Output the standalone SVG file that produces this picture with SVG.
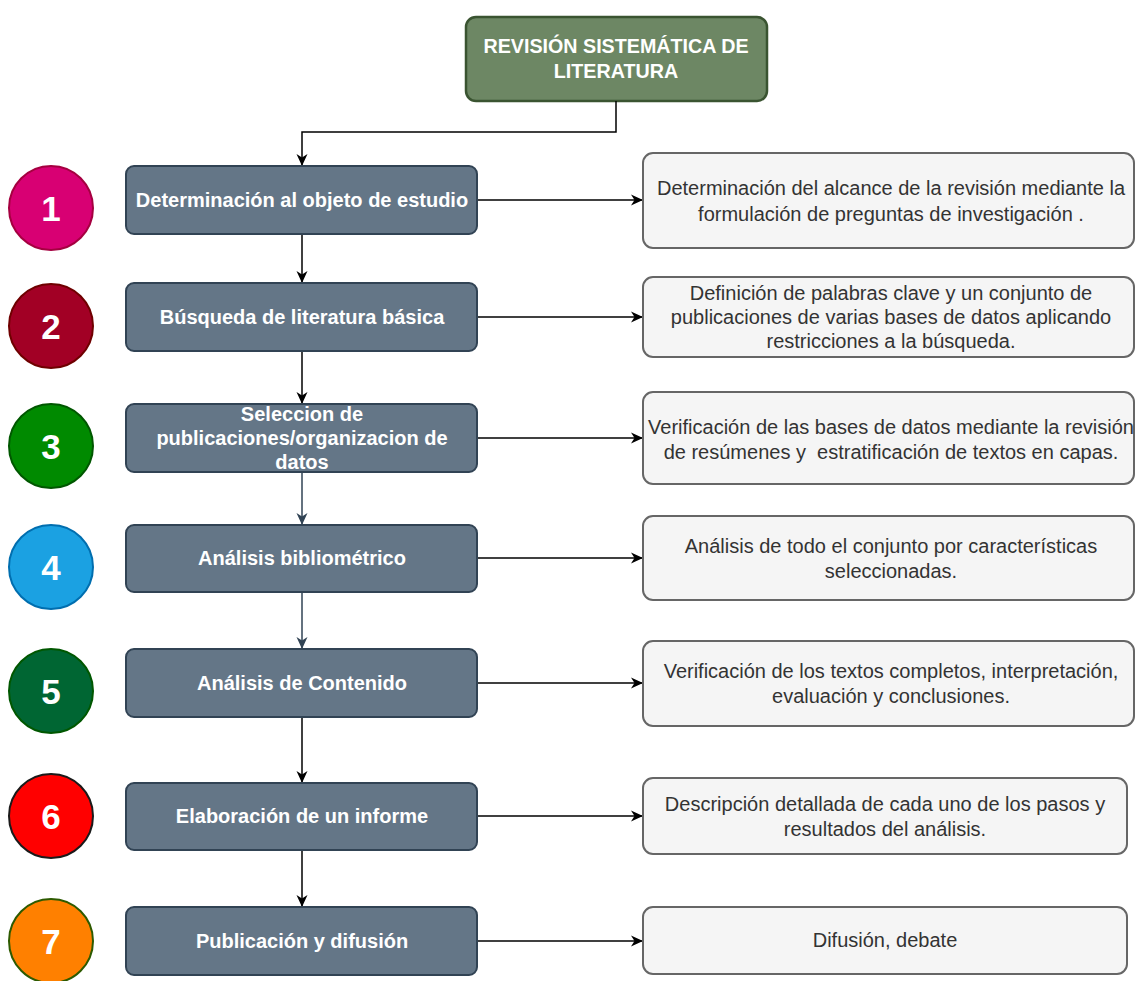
<svg xmlns="http://www.w3.org/2000/svg" width="1135" height="981" viewBox="0 0 1135 981">
  <style>
    .step rect { fill: #647687; stroke: #314354; stroke-width: 2; }
    .step text { fill: #ffffff; font-family: "Liberation Sans", Arial, sans-serif; font-size: 20px; font-weight: bold; text-anchor: middle; }
    .desc rect { fill: #f5f5f5; stroke: #666666; stroke-width: 2; }
    .desc text { fill: #333333; font-family: "Liberation Sans", Arial, sans-serif; font-size: 20px; text-anchor: middle; white-space: pre; }
    .num circle { stroke-width: 2; }
    .num text { fill: #ffffff; font-family: "Liberation Sans", Arial, sans-serif; font-size: 35px; font-weight: bold; text-anchor: middle; }
    .edge { fill: none; stroke: #000000; stroke-width: 1.5; marker-end: url(#arrow); }
    .edge.slate { stroke: #314354; marker-end: url(#arrowSlate); }
  </style>
  <defs>
    <marker id="arrow" markerUnits="userSpaceOnUse" markerWidth="14" markerHeight="12" refX="12" refY="6" orient="auto">
      <path d="M0,0.5 L12,6 L0,11.5 L3.5,6 Z" fill="#000000"/>
    </marker>
    <marker id="arrowSlate" markerUnits="userSpaceOnUse" markerWidth="14" markerHeight="12" refX="12" refY="6" orient="auto">
      <path d="M0,0.5 L12,6 L0,11.5 L3.5,6 Z" fill="#314354"/>
    </marker>
  </defs>
  <rect width="1135" height="981" fill="#ffffff"/>

  <!-- title -->
  <g id="title">
    <rect x="466" y="17" width="301" height="84" rx="10" fill="#6d8764" stroke="#3a5431" stroke-width="2.5"/>
    <text x="616" y="53" fill="#ffffff" font-family="'Liberation Sans', Arial, sans-serif" font-size="19.7" font-weight="bold" text-anchor="middle">REVISIÓN SISTEMÁTICA DE</text>
    <text x="616" y="78" fill="#ffffff" font-family="'Liberation Sans', Arial, sans-serif" font-size="19.7" font-weight="bold" text-anchor="middle">LITERATURA</text>
  </g>

  <!-- connectors -->
  <g id="connectors">
    <path class="edge" d="M616,101 V132 H302 V166"/>
    <path class="edge" d="M302,234 V283"/>
    <path class="edge" d="M302,351 V404"/>
    <path class="edge slate" d="M302,472 V525"/>
    <path class="edge slate" d="M302,592 V649"/>
    <path class="edge" d="M302,717 V783"/>
    <path class="edge" d="M302,850 V907"/>
    <path class="edge" d="M477,200 H643"/>
    <path class="edge" d="M477,317 H643"/>
    <path class="edge" d="M477,438 H643"/>
    <path class="edge" d="M477,558 H643"/>
    <path class="edge" d="M477,683 H643"/>
    <path class="edge" d="M477,816 H643"/>
    <path class="edge" d="M477,941 H643"/>
  </g>

  <!-- numbered badges -->
  <g id="num1" class="num"><circle cx="51" cy="208" r="42" fill="#d80073" stroke="#a50040"/><text x="51" y="221">1</text></g>
  <g id="num2" class="num"><circle cx="51" cy="326" r="42" fill="#a20025" stroke="#6f0000"/><text x="51" y="339">2</text></g>
  <g id="num3" class="num"><circle cx="51" cy="446" r="42" fill="#008a00" stroke="#005700"/><text x="51" y="459">3</text></g>
  <g id="num4" class="num"><circle cx="51" cy="567" r="42" fill="#1ba1e2" stroke="#006eaf"/><text x="51" y="580">4</text></g>
  <g id="num5" class="num"><circle cx="51" cy="691" r="42" fill="#006633" stroke="#005700"/><text x="51" y="704">5</text></g>
  <g id="num6" class="num"><circle cx="51" cy="816" r="42" fill="#ff0000" stroke="#1a1a1a"/><text x="51" y="829">6</text></g>
  <g id="num7" class="num"><circle cx="51" cy="941" r="42" fill="#ff8000" stroke="#2d5a00"/><text x="51" y="954">7</text></g>

  <!-- process steps -->
  <g id="step1" class="step"><rect x="126" y="166" width="351" height="68" rx="8"/><text x="302" y="207">Determinación al objeto de estudio</text></g>
  <g id="step2" class="step"><rect x="126" y="283" width="351" height="68" rx="8"/><text x="302" y="324">Búsqueda de literatura básica</text></g>
  <g id="step3" class="step"><rect x="126" y="404" width="351" height="68" rx="8"/>
    <text x="302" y="421">Seleccion de</text>
    <text x="302" y="445">publicaciones/organizacion de</text>
    <text x="302" y="469">datos</text>
  </g>
  <g id="step4" class="step"><rect x="126" y="525" width="351" height="67" rx="8"/><text x="302" y="565">Análisis bibliométrico</text></g>
  <g id="step5" class="step"><rect x="126" y="649" width="351" height="68" rx="8"/><text x="302" y="690">Análisis de Contenido</text></g>
  <g id="step6" class="step"><rect x="126" y="783" width="351" height="67" rx="8"/><text x="302" y="823">Elaboración de un informe</text></g>
  <g id="step7" class="step"><rect x="126" y="907" width="351" height="68" rx="8"/><text x="302" y="948">Publicación y difusión</text></g>

  <!-- descriptions -->
  <g id="desc1" class="desc"><rect x="643" y="153" width="491" height="95" rx="10"/>
    <text x="891" y="195">Determinación del alcance de la revisión mediante la</text>
    <text x="891" y="221">formulación de preguntas de investigación .</text>
  </g>
  <g id="desc2" class="desc"><rect x="643" y="277" width="491" height="80" rx="10"/>
    <text x="891" y="300">Definición de palabras clave y un conjunto de</text>
    <text x="891" y="324">publicaciones de varias bases de datos aplicando</text>
    <text x="891" y="348">restricciones a la búsqueda.</text>
  </g>
  <g id="desc3" class="desc"><rect x="643" y="392" width="491" height="92" rx="10"/>
    <text x="891" y="434">Verificación de las bases de datos mediante la revisión</text>
    <text x="891" y="459" xml:space="preserve">de resúmenes y  estratificación de textos en capas.</text>
  </g>
  <g id="desc4" class="desc"><rect x="643" y="516" width="491" height="84" rx="10"/>
    <text x="891" y="553">Análisis de todo el conjunto por características</text>
    <text x="891" y="578">seleccionadas.</text>
  </g>
  <g id="desc5" class="desc"><rect x="643" y="641" width="491" height="85" rx="10"/>
    <text x="891" y="678">Verificación de los textos completos, interpretación,</text>
    <text x="891" y="703">evaluación y conclusiones.</text>
  </g>
  <g id="desc6" class="desc"><rect x="643" y="778" width="484" height="76" rx="10"/>
    <text x="885" y="811">Descripción detallada de cada uno de los pasos y</text>
    <text x="885" y="836">resultados del análisis.</text>
  </g>
  <g id="desc7" class="desc"><rect x="643" y="907" width="484" height="67" rx="10"/>
    <text x="885" y="947">Difusión, debate</text>
  </g>
</svg>
